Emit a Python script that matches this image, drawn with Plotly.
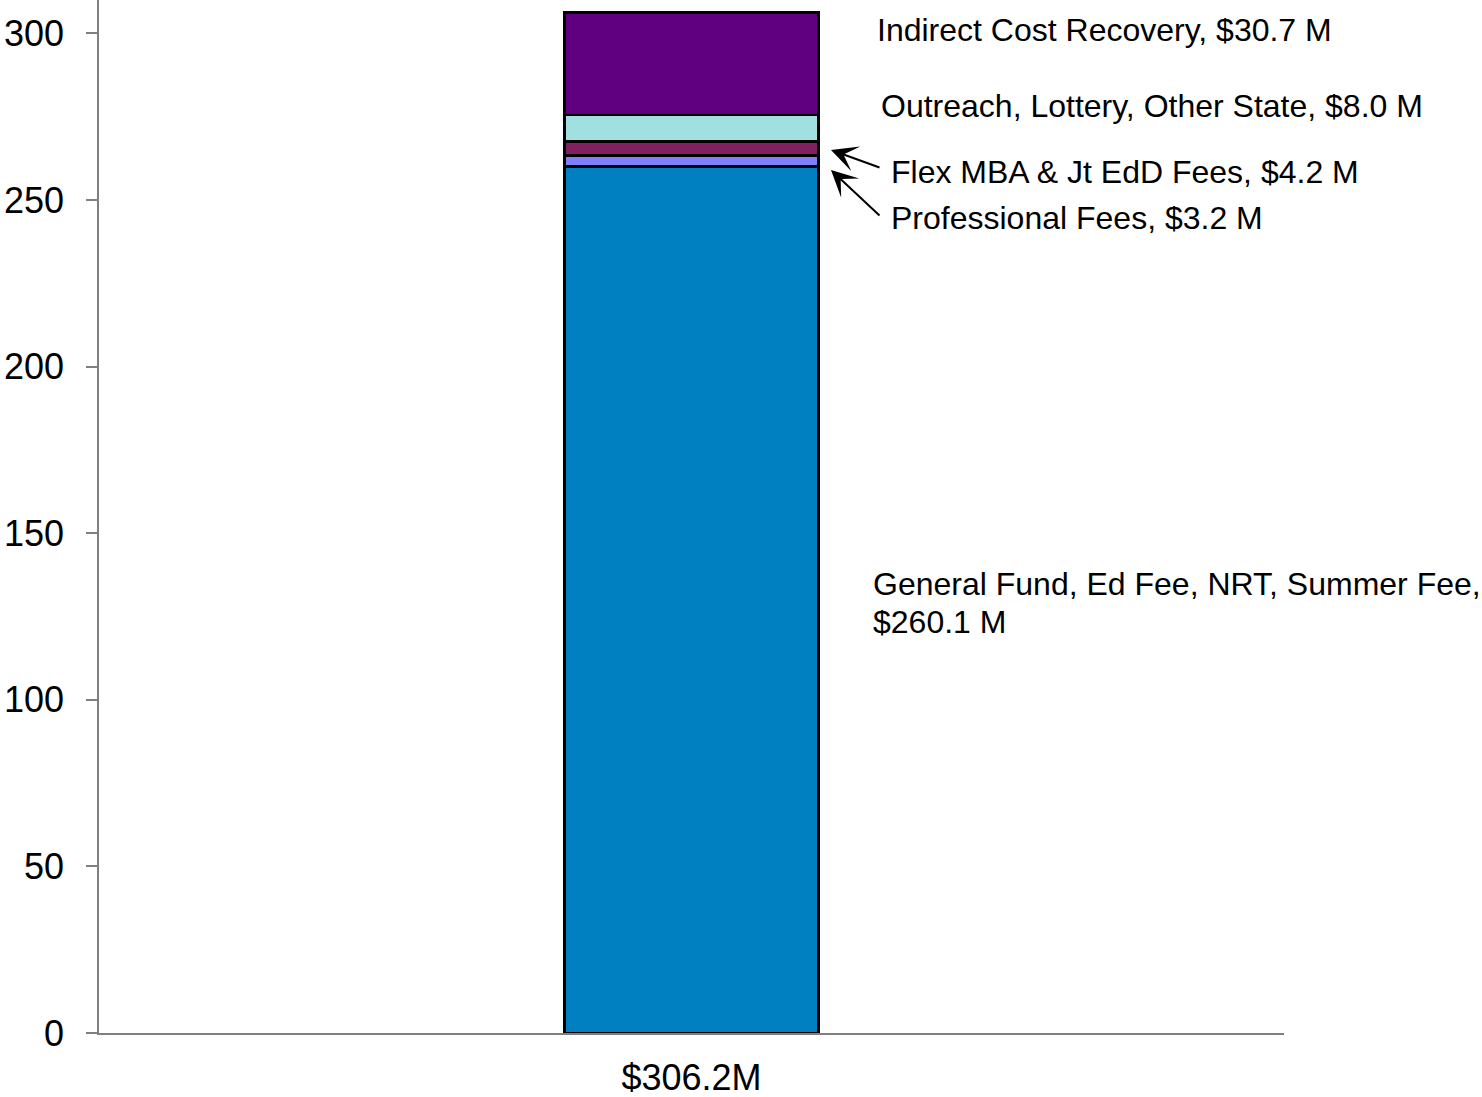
import plotly.graph_objects as go

category = ["$306.2M"]
series_names = ["General Fund, Ed Fee, NRT, Summer Fee", "Professional Fees",
                "Flex MBA & Jt EdD Fees", "Outreach, Lottery, Other State",
                "Indirect Cost Recovery"]
series_values = [260.1, 3.2, 4.2, 8.0, 30.7]
series_colors = ["#0080C0", "#8080FF", "#802060", "#A0E0E0", "#600080"]
y_ticks = [0, 50, 100, 150, 200, 250, 300]

fig = go.Figure()
for name, val, col in zip(series_names, series_values, series_colors):
    fig.add_trace(go.Bar(
        x=category, y=[val], name=name,
        marker=dict(color=col, line=dict(color="black", width=2.5)),
        width=0.214,
    ))

FONT = "Liberation Sans, Arial, sans-serif"

H = 1033.0  # plot height in px
YMAX = 310.0


def py(px):
    return (H - px) / H * YMAX


L, R = 99, 1284


def pxx(px):
    return (px - L) / (R - L)


labels = [
    ("Indirect Cost Recovery, $30.7 M", 875, 30),
    ("Outreach, Lottery, Other State, $8.0 M", 879, 106),
    ("Flex MBA & Jt EdD Fees, $4.2 M", 889, 172),
    ("Professional Fees, $3.2 M", 889, 218),
    ("General Fund, Ed Fee, NRT, Summer Fee,", 871, 584),
    ("$260.1 M", 871, 622),
]
for txt, x, y in labels:
    fig.add_annotation(text=txt, x=pxx(x), xref="paper", y=py(y), yref="y",
                       xanchor="left", yanchor="middle", showarrow=False,
                       font=dict(family=FONT, size=32, color="black"))

arrows = [(831, 150, 50, 18), (831, 170, 50, 47)]
for x, y, ax, ay in arrows:
    fig.add_annotation(text="", x=pxx(x), xref="paper", y=py(y), yref="y",
                       ax=ax, ay=ay, showarrow=True, arrowhead=3,
                       arrowsize=2.2, arrowwidth=2, arrowcolor="black")

fig.update_layout(
    barmode="stack",
    width=1482, height=1097,
    margin=dict(l=L, r=1482 - R, t=0, b=1097 - int(H)),
    plot_bgcolor="white", paper_bgcolor="white",
    showlegend=False,
    font=dict(family=FONT, size=36, color="black"),
)
fig.update_yaxes(range=[0, YMAX], tickvals=y_ticks, showgrid=False,
                 showline=True, linecolor="#808080", linewidth=1.5,
                 ticks="outside", ticklen=11, tickcolor="#808080", tickwidth=1.5,
                 tickfont=dict(size=36), ticklabelstandoff=15, zeroline=False,
                 automargin=False)
fig.update_xaxes(range=[-0.5, 0.5], showgrid=False, showline=True,
                 linecolor="#808080", linewidth=1.5, ticks="",
                 tickfont=dict(size=36), ticklabelstandoff=12, automargin=False)

fig.write_html("out.html", config={"displayModeBar": False},
               post_script="document.body.style.margin='0';"
                           "document.body.style.overflow='hidden';")
